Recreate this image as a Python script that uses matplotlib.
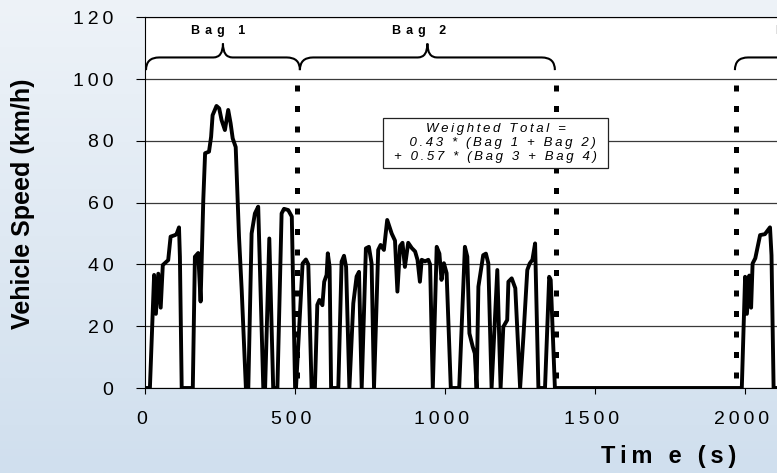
import numpy as np
import matplotlib
matplotlib.use("Agg")
import matplotlib.pyplot as plt
from matplotlib.path import Path
from matplotlib.patches import PathPatch, Rectangle
from matplotlib.colors import LinearSegmentedColormap
from matplotlib.transforms import ScaledTranslation

plt.rcParams['font.family'] = ['Liberation Sans', 'DejaVu Sans']

# speed trace: time (s), speed (km/h)
bag1_time = [0, 18, 32, 38, 46, 54, 61, 79, 87, 102, 107, 115, 118, 124, 161, 168,
             179, 187, 196, 202, 215, 222, 227, 240, 249, 257, 268, 279, 287, 294,
             304, 315, 324, 338, 346, 357, 368, 379, 396, 402, 416, 429, 443, 457,
             465, 479, 491, 502]
bag1_speed = [0, 0, 36.6, 24, 37, 26, 39.8, 41.4, 49, 49.5, 49.8, 52, 42.5, 0, 0, 42.5,
              43.7, 28, 61, 76, 76.5, 81.3, 88.3, 91.3, 90.5, 86.7, 83.5, 90, 85.7, 80.8,
              78, 49, 31.7, 0, 0, 50, 56.5, 58.7, 0, 0, 48.4, 0, 0, 56.5,
              58, 57.6, 55.5, 0]

bag2_time = [505, 527, 538, 546, 557, 568, 576, 583, 593, 599, 607, 611, 617, 622, 646,
             657, 665, 672, 683, 696, 707, 715, 724, 738, 748, 757, 765, 779, 787, 798,
             809, 824, 835, 843, 852, 860, 868, 879, 891, 902, 910, 918, 924, 935, 946,
             952, 961, 974, 983, 990, 998, 1007, 1021, 1049, 1068, 1076, 1083, 1094,
             1101, 1107, 1113, 1118, 1129, 1138, 1146, 1157, 1176, 1187, 1196, 1209,
             1213, 1224, 1236, 1252, 1263, 1276, 1284, 1293, 1302, 1313, 1335, 1349,
             1354, 1368]
bag2_speed = [0, 40.3, 41.6, 40, 0, 0, 26.9, 28.5, 26.8, 34.4, 36.6, 43.6, 39.2, 0, 0,
              40.9, 42.8, 39.2, 0, 27.4, 36.1, 37.6, 0, 45.2, 45.7, 40.3, 0, 44.7, 46.3, 44.7,
              54.4, 50, 47.7, 31.2, 46, 47, 39.2, 47, 45.3, 44.2, 41.5, 34.4, 41.5, 41, 41.5,
              40, 0, 45.7, 43.5, 35, 40.4, 37.2, 0, 0, 45.7, 42.5, 17.7, 13.4,
              11.2, 0, 32.8, 36, 43, 43.5, 40.4, 0, 38.2, 0, 19.8, 22,
              34.4, 35.5, 32.3, 0, 16.6, 38.2, 40.3, 41.5, 46.8, 0, 0, 36,
              35, 0]

bag3_time = [1368, 1991, 2002, 2008, 2016, 2022, 2027, 2036, 2052, 2068, 2085, 2090, 2097, 2140]
bag3_speed = [0, 0, 36, 24, 36.4, 26, 40.3, 42, 49.5, 49.8, 52, 43, 0, 0]

bag_names = ['Bag 1', 'Bag 2', 'Bag 3']
bag_start = [5, 518, 1968]
bag_end = [518, 1368, 2478]
label_time = [246, 915, 2195]
bag_bounds = [507, 1372, 1973]

y_ticks = [0, 20, 40, 60, 80, 100, 120]
x_ticks = [0, 500, 1000, 1500, 2000, 2500]
note_lines = ['Weighted Total =', '0.43 * (Bag 1 + Bag 2)', '+ 0.57 * (Bag 3 + Bag 4)']


def spaced(s, gap='\u2009'):
    return gap.join(s)


def brace(ax, x0, x1, yb=102.9, yf=107.0, yt=111.5, r=44, rt=32):
    xm = (x0 + x1) / 2
    verts = [(x0, yb), (x0, yf), (x0 + r, yf),
             (xm - rt, yf), (xm, yf), (xm, yt),
             (xm, yf), (xm + rt, yf),
             (x1 - r, yf), (x1, yf), (x1, yb)]
    codes = [Path.MOVETO, Path.CURVE3, Path.CURVE3,
             Path.LINETO, Path.CURVE3, Path.CURVE3,
             Path.CURVE3, Path.CURVE3,
             Path.LINETO, Path.CURVE3, Path.CURVE3]
    ax.add_patch(PathPatch(Path(verts, codes), fc='none', ec='black', lw=1.5))


fig = plt.figure(figsize=(7.77, 4.73), dpi=100)

# soft blue background
bg = fig.add_axes([0, 0, 1, 1], zorder=-5)
cmap = LinearSegmentedColormap.from_list('bg', ['#eef3f8', '#d0dfee'])
bg.imshow(np.linspace(0, 1, 256)[:, None], aspect='auto', cmap=cmap, extent=[0, 1, 0, 1])
bg.axis('off')

ax = fig.add_axes([144.5 / 777, 85 / 473, 750 / 777, 370.7 / 473])
ax.set_facecolor('white')
ax.set_xlim(0, 2500)
ax.set_ylim(0, 120)

ax.yaxis.grid(True, color='#3a3a3a', lw=0.9)
ax.set_axisbelow(True)

ax.plot(bag1_time + bag2_time + bag3_time, bag1_speed + bag2_speed + bag3_speed,
        color='black', lw=2.8, solid_joinstyle='round')

for b in bag_bounds:
    ax.plot([b, b], [98, 0], color='black', lw=3.6, ls=(0, (1.2, 2.9)),
            dash_capstyle='butt')

for name, s, e, lt in zip(bag_names, bag_start, bag_end, label_time):
    brace(ax, s, e)
    ax.text(lt, 115.5, spaced(name, '\u2009\u2009'), ha='center', va='center',
            fontsize=9, fontweight='bold')

# formula box
note_x, note_y, note_w, note_h = 1170, 79.4, 747, 16.3
ax.add_patch(Rectangle((note_x - note_w / 2, note_y - note_h / 2), note_w, note_h,
                       fc='white', ec='#222222', lw=0.9, zorder=3))
note = [spaced(l) for l in note_lines]
note[1] = '    ' + note[1]
ax.text(note_x, note_y, '\n'.join(note), ha='center', va='center', fontsize=9.5,
        style='italic', multialignment='center', zorder=4)

ax.set_yticks(y_ticks)
ax.set_yticklabels([spaced(str(v)) for v in y_ticks])
ax.set_xticks(x_ticks)
ax.set_xticklabels([spaced(str(v)) for v in x_ticks])
ax.tick_params(axis='y', direction='out', length=6.5, width=0.8, pad=16, labelsize=14)
ax.tick_params(axis='x', direction='out', length=4.5, width=0.8, pad=12, labelsize=14)
shift = ScaledTranslation(-3 / 100, 0, fig.dpi_scale_trans)
for lab in ax.get_xticklabels():
    lab.set_transform(lab.get_transform() + shift)

for side in ['left', 'bottom', 'top']:
    ax.spines[side].set_color('black')
    ax.spines[side].set_linewidth(0.8)
ax.spines['right'].set_visible(False)

fig.text(668.5 / 777, 16.3 / 473, spaced('Tim e (s)'), ha='center', va='center',
         fontsize=17, fontweight='bold')
fig.text(23 / 777, 269.5 / 473, 'Vehicle Speed (km/h)', rotation=90, ha='center',
         va='center', fontsize=18, fontweight='bold')

fig.savefig('out.png', dpi=100)
